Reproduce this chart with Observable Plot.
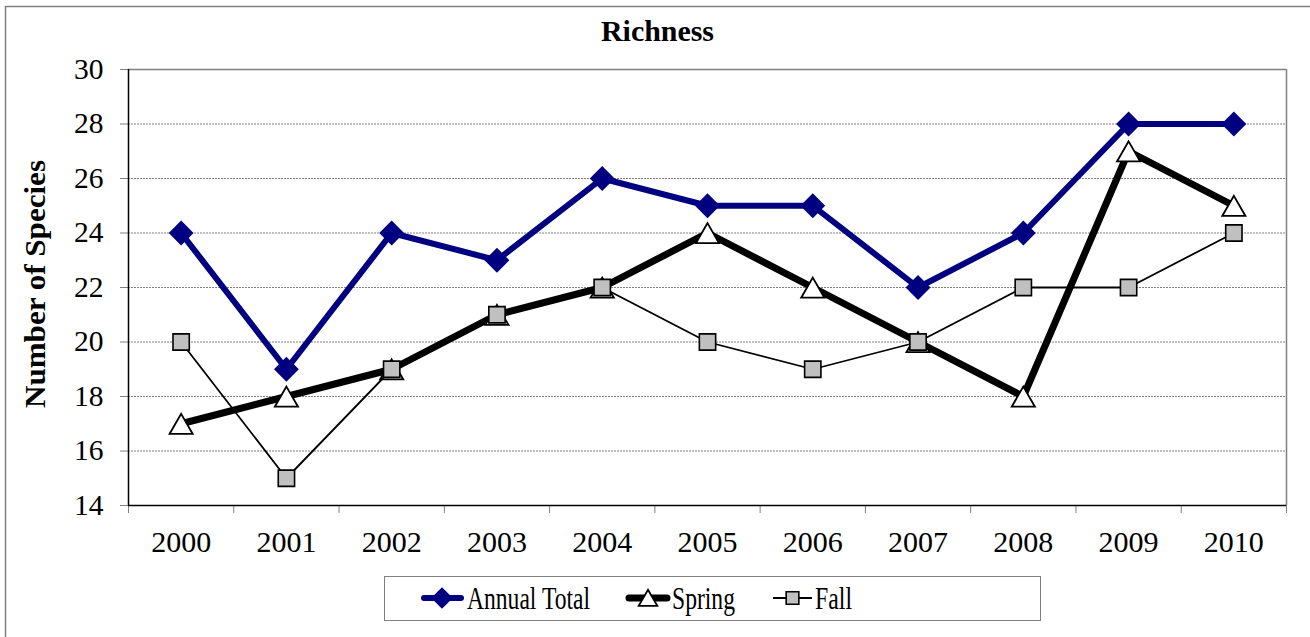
<!DOCTYPE html>
<html>
<head>
<meta charset="utf-8">
<script src="https://cdn.jsdelivr.net/npm/d3@7"></script>
<script src="https://cdn.jsdelivr.net/npm/@observablehq/plot@0.6"></script>
<style>
  html, body { margin: 0; padding: 0; background: #fff; }
  #wrap { position: relative; width: 1310px; height: 637px; overflow: hidden; font-family: 'Liberation Serif', 'Times New Roman', Times, 'DejaVu Serif', serif; }
  #wrap > svg { position: absolute; left: 0; top: 0; }
  #wrap svg, #wrap svg text { font-family: 'Liberation Serif', 'Times New Roman', Times, 'DejaVu Serif', serif !important; }
  #overlay { pointer-events: none; }
</style>
</head>
<body>
<div id="wrap"></div>
<script>
const years = ["2000","2001","2002","2003","2004","2005","2006","2007","2008","2009","2010"];
const annualTotal = [24, 19, 24, 23, 26, 25, 25, 22, 24, 28, 28];
const spring      = [17, 18, 19, 21, 22, 24, 22, 20, 18, 27, 25];
const fall        = [20, 15, 19, 21, 22, 20, 19, 20, 22, 22, 24];
const yTicks = [14, 16, 18, 20, 22, 24, 26, 28, 30];
const seriesNames = ["Annual Total", "Spring", "Fall"];
const chartTitle = "Richness";
const yLabel = "Number of Species";

const rows = (vals) => vals.map((v, i) => ({i, year: years[i], value: v}));
const A = rows(annualTotal), S = rows(spring), F = rows(fall);
const idx = years.map((_, i) => i);
const bounds = years.map((_, i) => i - 0.5).concat([years.length - 0.5]);
const font = "'Liberation Serif', 'Times New Roman', Times, 'DejaVu Serif', serif";

const plot = Plot.plot({
  width: 1310,
  height: 637,
  marginLeft: 128,
  marginRight: 24,
  marginTop: 69,
  marginBottom: 132,
  style: {fontFamily: font, background: "transparent"},
  x: {type: "linear", domain: [-0.5, years.length - 0.5]},
  y: {domain: [14, 30]},
  marks: [
    Plot.ruleY(yTicks.filter(d => d > 14 && d < 30), {stroke: "#808080", strokeWidth: 1, strokeDasharray: "2,1"}),
    Plot.ruleY([30], {stroke: "#808080", strokeWidth: 1.5}),
    Plot.ruleX([years.length - 0.5], {stroke: "#808080", strokeWidth: 1.5}),
    Plot.axisY({ticks: yTicks, tickSize: 8, tickPadding: 17, fontSize: 29.5, stroke: "#808080", strokeOpacity: 1, label: null, tickFormat: d => String(d)}),
    Plot.axisX({ticks: bounds, tickSize: 8, tickFormat: () => "", stroke: "#808080", strokeOpacity: 1, label: null}),
    Plot.axisX({ticks: idx, tickSize: 0, tickPadding: 25, fontSize: 30, tickFormat: i => years[i], label: null}),
    Plot.ruleX([-0.5], {stroke: "#000", strokeWidth: 1.5}),
    Plot.ruleY([14], {stroke: "#000", strokeWidth: 1.5}),
    Plot.line(A, {x: "i", y: "value", stroke: "#000080", strokeWidth: 6}),
    Plot.dot(A, {x: "i", y: "value", symbol: "diamond2", r: 11.2, fill: "#000080", stroke: "none"}),
    Plot.line(S, {x: "i", y: "value", stroke: "#000", strokeWidth: 7}),
    Plot.dot(S, {x: "i", y: "value", symbol: "triangle", r: 8.6, fill: "#fff", stroke: "#000", strokeWidth: 1.8, dy: 3.5}),
    Plot.line(F, {x: "i", y: "value", stroke: "#000", strokeWidth: 1.8}),
    Plot.dot(F, {x: "i", y: "value", symbol: "square", r: 9.2, fill: "#C0C0C0", stroke: "#000", strokeWidth: 1.6})
  ]
});
const wrap = document.getElementById("wrap");
wrap.appendChild(plot);

const ov = d3.select(wrap).append("svg")
  .attr("id", "overlay")
  .attr("width", 1310).attr("height", 637)
  .style("font-family", font);

ov.append("rect").attr("x", 5.5).attr("y", 6.5).attr("width", 1400).attr("height", 700)
  .attr("fill", "none").attr("stroke", "#808080").attr("stroke-width", 1.5);

ov.append("text").attr("x", 657.5).attr("y", 41).attr("text-anchor", "middle")
  .attr("font-weight", "bold").attr("font-size", 30)
  .attr("textLength", 113).attr("lengthAdjust", "spacingAndGlyphs").text(chartTitle);

ov.append("text").attr("transform", "translate(45,284) rotate(-90)")
  .attr("text-anchor", "middle").attr("font-weight", "bold").attr("font-size", 30)
  .attr("textLength", 248).attr("lengthAdjust", "spacingAndGlyphs").text(yLabel);

const lg = ov.append("g");
lg.append("rect").attr("x", 384.5).attr("y", 576.5).attr("width", 656).attr("height", 44)
  .attr("fill", "#fff").attr("stroke", "#808080").attr("stroke-width", 1);
const ly = 598;
lg.append("line").attr("x1", 424).attr("x2", 461).attr("y1", ly).attr("y2", ly)
  .attr("stroke", "#000080").attr("stroke-width", 6).attr("stroke-linecap", "round");
lg.append("path").attr("d", d3.symbol(d3.symbolDiamond2, 300)()).attr("transform", `translate(442,${ly})`).attr("fill", "#000080");
lg.append("text").attr("x", 467).attr("y", 608.5).attr("font-size", 31)
  .attr("textLength", 123).attr("lengthAdjust", "spacingAndGlyphs").text(seriesNames[0]);
lg.append("line").attr("x1", 629).attr("x2", 667).attr("y1", ly).attr("y2", ly)
  .attr("stroke", "#000").attr("stroke-width", 7).attr("stroke-linecap", "round");
lg.append("path").attr("d", d3.symbol(d3.symbolTriangle, 150)()).attr("transform", `translate(648,${ly + 2.5})`)
  .attr("fill", "#fff").attr("stroke", "#000").attr("stroke-width", 1.8);
lg.append("text").attr("x", 672).attr("y", 608.5).attr("font-size", 31)
  .attr("textLength", 63).attr("lengthAdjust", "spacingAndGlyphs").text(seriesNames[1]);
lg.append("line").attr("x1", 773).attr("x2", 812).attr("y1", ly).attr("y2", ly)
  .attr("stroke", "#000").attr("stroke-width", 1.8);
lg.append("path").attr("d", d3.symbol(d3.symbolSquare, 160)()).attr("transform", `translate(792.5,${ly})`)
  .attr("fill", "#C0C0C0").attr("stroke", "#000").attr("stroke-width", 1.6);
lg.append("text").attr("x", 815).attr("y", 608.5).attr("font-size", 31)
  .attr("textLength", 37).attr("lengthAdjust", "spacingAndGlyphs").text(seriesNames[2]);
</script>
</body>
</html>
